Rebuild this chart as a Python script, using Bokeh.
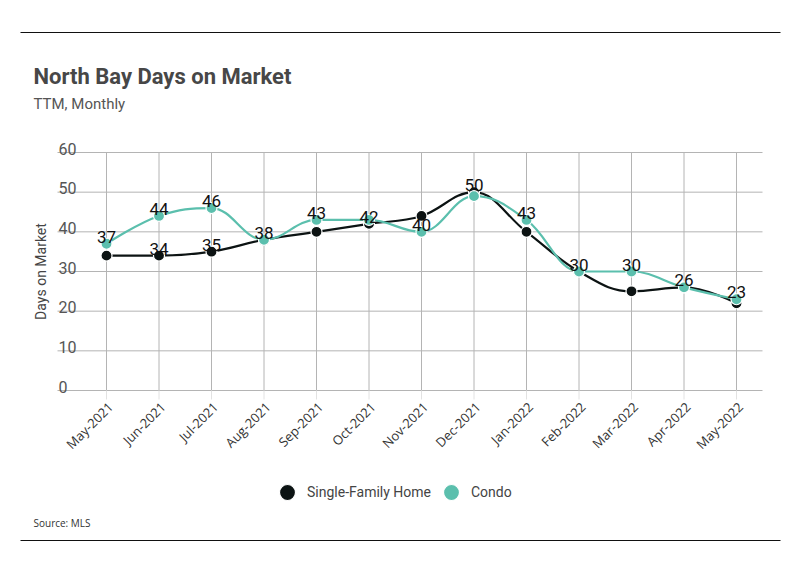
import math
from bokeh.plotting import figure
from bokeh.models import ColumnDataSource, Legend, LegendItem
from bokeh.core.properties import value
from bokeh.embed import file_html
from bokeh.resources import INLINE

# ---------------- data ----------------
months = ["May-2021", "Jun-2021", "Jul-2021", "Aug-2021", "Sep-2021", "Oct-2021", "Nov-2021",
          "Dec-2021", "Jan-2022", "Feb-2022", "Mar-2022", "Apr-2022", "May-2022"]
single_family = [34, 34, 35, 38, 40, 42, 44, 50, 40, 30, 25, 26, 22]
condo = [37, 44, 46, 38, 43, 43, 40, 49, 43, 30, 30, 26, 23]
# which data labels are visible (overlapping ones are hidden in the original)
sf_label_shown = [0, 1, 1, 0, 0, 1, 0, 1, 0, 0, 0, 0, 0]
condo_label_shown = [1, 1, 1, 1, 1, 0, 1, 0, 1, 1, 1, 1, 1]
y_ticks = [0, 10, 20, 30, 40, 50, 60]
y_max = 60

SF_COLOR = "#0c1313"
CONDO_COLOR = "#5bbfad"
GRID = "#b4b4b4"
NARROW = "Roboto, sans-serif"
PLAIN = "Open Sans, Noto Sans, sans-serif"

W, H = 783, 559
CAT0_PX, CAT_STEP = 106.0, 52.5
Y0_PX, Y60_PX = 390.0, 152.0
PPU = (Y0_PX - Y60_PX) / y_max


def px2x(sx):
    return (sx - CAT0_PX) / CAT_STEP


def py2y(sy):
    return (Y0_PX - sy) / PPU


p = figure(width=W, height=H, output_backend="svg", toolbar_location=None,
           x_range=(px2x(0), px2x(W)), y_range=(py2y(H), py2y(0)),
           x_axis_location=None, y_axis_location=None, min_border=0)
p.min_border_left = p.min_border_right = p.min_border_top = p.min_border_bottom = 0
p.outline_line_color = None
p.grid.visible = False
p.background_fill_color = "white"
p.border_fill_color = "white"

xs = list(range(len(months)))
PLOT_L, PLOT_R = px2x(57), px2x(762)

p.segment(x0=[PLOT_L] * len(y_ticks), x1=[PLOT_R] * len(y_ticks), y0=y_ticks, y1=y_ticks,
          line_color=GRID, line_width=1)
p.segment(x0=xs, x1=xs, y0=[0] * len(xs), y1=[y_max] * len(xs), line_color=GRID, line_width=1)
p.segment(x0=xs, x1=xs, y0=[0] * len(xs), y1=[py2y(Y0_PX + 9)] * len(xs),
          line_color="#e2e2e2", line_width=1)

p.text([px2x(58)] * len(y_ticks), y_ticks, text=[str(t) for t in y_ticks], y_offset=-4,
       text_align="left", text_baseline="alphabetic", text_font=value(NARROW),
       text_font_size="16px", text_color="#555555")

p.text(xs, [py2y(404)] * len(xs), text=months, x_offset=4, angle=math.pi / 4,
       text_align="right", text_baseline="middle", text_font=value(PLAIN),
       text_font_size="13px", text_color="#333333")

p.text([px2x(40)], [y_max / 2], text=["Days on Market"], angle=math.pi / 2,
       text_align="center", text_baseline="middle", text_font=value(NARROW),
       text_font_size="14px", text_color="#444444")


def spline(xv, yv, smoothing=1.5):
    n = len(xv)
    denom = smoothing + 1
    left = [None] * n
    right = [None] * n
    for i in range(1, n - 1):
        px_, py_ = xv[i - 1], yv[i - 1]
        x, y = xv[i], yv[i]
        nx, ny = xv[i + 1], yv[i + 1]
        lcx = (smoothing * x + px_) / denom
        lcy = (smoothing * y + py_) / denom
        rcx = (smoothing * x + nx) / denom
        rcy = (smoothing * y + ny) / denom
        if rcx != lcx:
            corr = ((rcy - lcy) * (rcx - x)) / (rcx - lcx) + y - rcy
            lcy += corr
            rcy += corr
        if lcy > py_ and lcy > y:
            lcy = max(py_, y)
            rcy = 2 * y - lcy
        elif lcy < py_ and lcy < y:
            lcy = min(py_, y)
            rcy = 2 * y - lcy
        if rcy > ny and rcy > y:
            rcy = max(ny, y)
            lcy = 2 * y - rcy
        elif rcy < ny and rcy < y:
            rcy = min(ny, y)
            lcy = 2 * y - rcy
        left[i] = (lcx, lcy)
        right[i] = (rcx, rcy)
    d = dict(x0=[], y0=[], x1=[], y1=[], cx0=[], cy0=[], cx1=[], cy1=[])
    for i in range(1, n):
        s = (xv[i - 1], yv[i - 1])
        e = (xv[i], yv[i])
        c0 = right[i - 1] or s
        c1 = left[i] or e
        d["x0"].append(s[0]); d["y0"].append(s[1])
        d["x1"].append(e[0]); d["y1"].append(e[1])
        d["cx0"].append(c0[0]); d["cy0"].append(c0[1])
        d["cx1"].append(c1[0]); d["cy1"].append(c1[1])
    return ColumnDataSource(d)


markers = []
for vals, color in [(single_family, SF_COLOR), (condo, CONDO_COLOR)]:
    p.bezier(x0="x0", y0="y0", x1="x1", y1="y1", cx0="cx0", cy0="cy0", cx1="cx1", cy1="cy1",
             source=spline(xs, vals), line_color=color, line_width=2.2)
    markers.append(p.scatter(xs, vals, size=11, fill_color=color, line_color="white",
                             line_width=1.2))

for vals, shown in [(single_family, sf_label_shown), (condo, condo_label_shown)]:
    lx = [x for x, s in zip(xs, shown) if s]
    ly = [v for v, s in zip(vals, shown) if s]
    p.text(lx, ly, text=[str(v) for v in ly], y_offset=-7, text_align="center",
           text_baseline="alphabetic", text_font=value(NARROW), text_font_size="17px",
           text_color="#111111")

legend = Legend(items=[LegendItem(label="Single-Family Home", renderers=[markers[0]]),
                       LegendItem(label="Condo", renderers=[markers[1]])],
                orientation="horizontal", location=(267, H - 512),
                glyph_width=40, glyph_height=40, label_standoff=0, spacing=0,
                label_text_font=NARROW, label_text_font_size="14px",
                label_text_color="#444444", border_line_color=None,
                background_fill_alpha=0, padding=0, margin=0)
p.add_layout(legend, "center")

p.text([px2x(33)], [py2y(76)], text=["North Bay Days on Market"], text_align="left",
       text_baseline="alphabetic", text_font=value(NARROW), text_font_style="bold",
       text_font_size="22px", text_color="#474747")
p.text([px2x(33)], [py2y(103)], text=["TTM, Monthly"], text_align="left",
       text_baseline="alphabetic", text_font=value(NARROW), text_font_size="15px",
       text_color="#555555")
p.text([px2x(33)], [py2y(522)], text=["Source:  MLS"], text_align="left",
       text_baseline="middle", text_font=value(PLAIN), text_font_size="10px",
       text_color="#333333")

p.segment(x0=[px2x(20)] * 2, x1=[px2x(780)] * 2, y0=[py2y(32), py2y(540)],
          y1=[py2y(32), py2y(540)], line_color="#111111", line_width=1.2)

open("out.html", "w").write(file_html(p, INLINE))
